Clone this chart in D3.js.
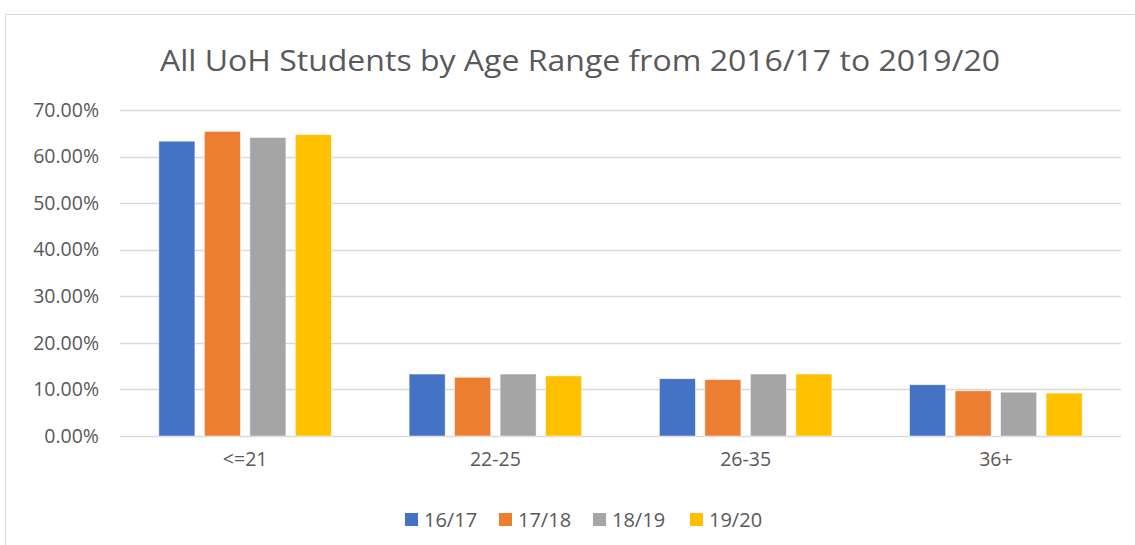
<!DOCTYPE html>
<html><head><meta charset="utf-8">
<script src="https://cdn.jsdelivr.net/npm/d3@7"></script>
<style>body{margin:0;background:#fff;} svg{display:block;} text{font-family:"Open Sans","Liberation Sans",sans-serif;}</style>
</head><body>
<svg id="c" width="1135" height="545"></svg>
<script>
const categories = ["<=21", "22-25", "26-35", "36+"];
const seriesNames = ["16/17", "17/18", "18/19", "19/20"];
const s1617 = [63.3, 13.3, 12.3, 11.0];
const s1718 = [65.4, 12.6, 12.1, 9.7];
const s1819 = [64.1, 13.3, 13.3, 9.4];
const s1920 = [64.7, 12.9, 13.3, 9.2];
const yTicks = [0, 10, 20, 30, 40, 50, 60, 70];
const colors = ["#4472C4", "#ED7D31", "#A5A5A5", "#FFC000"];
const title = "All UoH Students by Age Range from 2016/17 to 2019/20";
const series = [s1617, s1718, s1819, s1920];

const svg = d3.select("#c");
// chart border
svg.append("path").attr("d", "M5.5,545 V14.5 H1135").attr("fill", "none").attr("stroke", "#d9d9d9").attr("stroke-width", 1);

const x0 = d3.scaleBand().domain(categories).range([120, 1121]);
const y = d3.scaleLinear().domain([0, 70]).range([436, 110]);
const barW = 36, step = 45.5;

// gridlines
svg.append("g").selectAll("line").data(yTicks).join("line")
  .attr("x1", 120).attr("x2", 1121)
  .attr("y1", d => Math.round(y(d)) + 0.5).attr("y2", d => Math.round(y(d)) + 0.5)
  .attr("stroke", "#d9d9d9").attr("stroke-width", 1.5);

// y axis labels
const yAxis = d3.axisLeft(y).tickValues(yTicks).tickSize(0).tickPadding(0).tickFormat(d => d.toFixed(2) + "%");
const ga = svg.append("g").attr("transform", "translate(99,0)").call(yAxis);
ga.select(".domain").remove();
ga.selectAll("text").attr("fill", "#595959").style("font-size", "19.5px").style("font-family", "'Open Sans','Liberation Sans',sans-serif");

// bars
series.forEach((vals, si) => {
  svg.append("g").selectAll("rect").data(vals).join("rect")
    .attr("x", (d, i) => x0(categories[i]) + x0.bandwidth() / 2 - (step * 3 + barW) / 2 + si * step)
    .attr("y", d => y(d))
    .attr("width", barW)
    .attr("height", d => y(0) - y(d))
    .attr("fill", colors[si])
    .attr("stroke", "#fff").attr("stroke-opacity", 0.6).attr("stroke-width", 0.75);
});

// x labels
const xAxis = d3.axisBottom(x0).tickSize(0).tickPadding(0);
const gx = svg.append("g").attr("transform", "translate(0,452)").call(xAxis);
gx.select(".domain").remove();
gx.selectAll("text").attr("fill", "#595959").style("font-size", "19.5px").style("font-family", "'Open Sans','Liberation Sans',sans-serif");

// title
svg.append("text").attr("x", 580).attr("y", 71).attr("text-anchor", "middle")
  .attr("fill", "#595959").style("font-size", "30px")
  .attr("textLength", 840).attr("lengthAdjust", "spacingAndGlyphs").text(title);

// legend
const lg = svg.append("g");
const lx = [405, 499, 593, 690];
seriesNames.forEach((n, i) => {
  lg.append("rect").attr("x", lx[i]).attr("y", 513).attr("width", 13).attr("height", 13).attr("fill", colors[i]);
  lg.append("text").attr("x", lx[i] + 19).attr("y", 527).attr("fill", "#595959").style("font-size", "20px").text(n);
});
</script>
</body></html>
